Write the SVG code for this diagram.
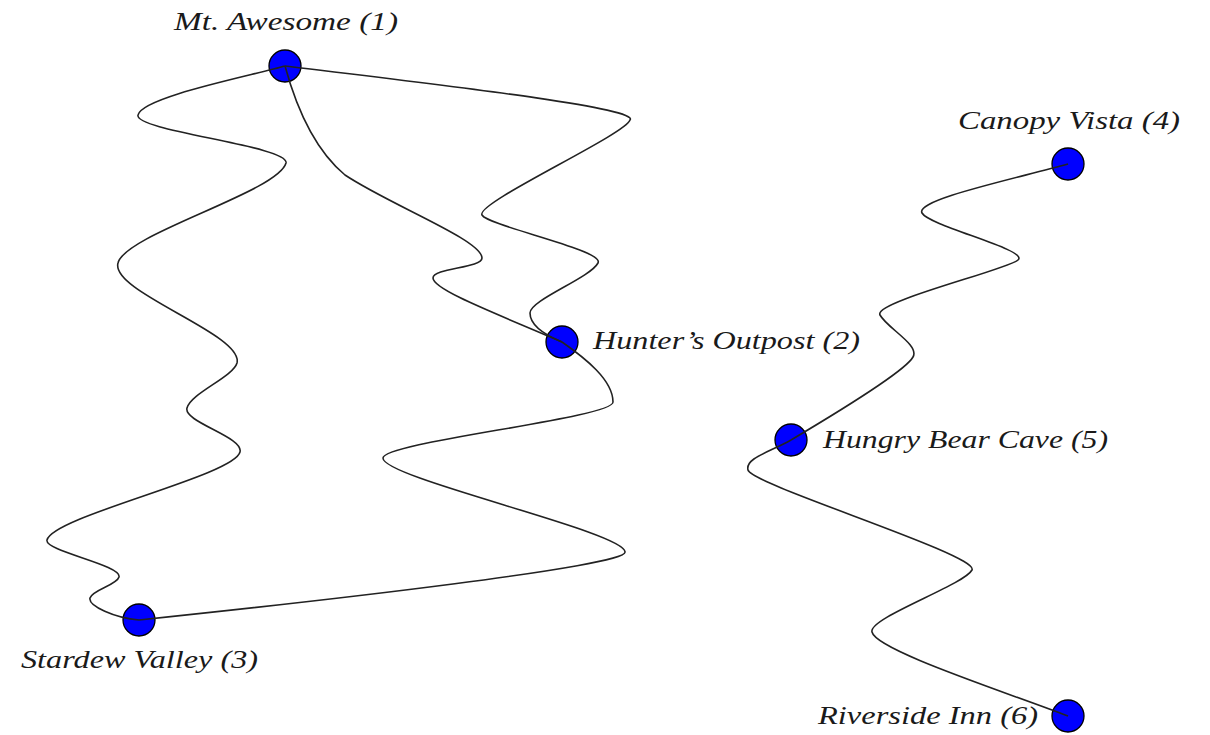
<svg xmlns="http://www.w3.org/2000/svg" width="1210" height="735" viewBox="0 0 1210 735">
<style>
.node{fill:#0000ff;stroke:#000;stroke-width:1.3}
.lbl{font-family:"Liberation Serif",serif;font-style:italic;font-size:26px;fill:#1a1a1a}
.edge{fill:none;stroke:#222;stroke-width:1.6}
</style>
<rect width="1210" height="735" fill="#fff"/>
<g id="node1"><circle class="node" cx="285" cy="66" r="16"/><text class="lbl" x="174" y="30" textLength="224" lengthAdjust="spacingAndGlyphs">Mt. Awesome (1)</text></g>
<g id="node2"><circle class="node" cx="562" cy="342" r="16"/><text class="lbl" x="593" y="349" textLength="267" lengthAdjust="spacingAndGlyphs">Hunter’s Outpost (2)</text></g>
<g id="node3"><circle class="node" cx="139" cy="620" r="16"/><text class="lbl" x="21" y="668" textLength="237" lengthAdjust="spacingAndGlyphs">Stardew Valley (3)</text></g>
<g id="node4"><circle class="node" cx="1068" cy="164" r="16"/><text class="lbl" x="958" y="129" textLength="222" lengthAdjust="spacingAndGlyphs">Canopy Vista (4)</text></g>
<g id="node5"><circle class="node" cx="791" cy="440" r="16"/><text class="lbl" x="823" y="448" textLength="285" lengthAdjust="spacingAndGlyphs">Hungry Bear Cave (5)</text></g>
<g id="node6"><circle class="node" cx="1068" cy="716" r="16"/><text class="lbl" x="818" y="724" textLength="220" lengthAdjust="spacingAndGlyphs">Riverside Inn (6)</text></g>
<g id="connectors">
<path class="edge" d="M285,66 C250,76 142,97 138,115 C134,131 290,146 286,163 C278,192 125,234 118,263 C110,292 244,334 237,363 C233,377 191,393 187,408 C183,422 244,437 240,452 C234,476 53,516 47,540 C44,551 122,565 119,577 C117,585 92,590 90,598 C88,606 115,618 139,620"/>
<path class="edge" d="M139,620 C330,600 628,566 625,552 C626,532 382,478 383,458 C383,442 614,418 613,402 C613,380 585,358 562,342"/>
<path class="edge" d="M285,66 C297,110 315,150 345,175 C390,205 482,240 482,258 C482,268 433,268 433,278 C433,290 500,315 562,342"/>
<path class="edge" d="M285,66 C450,86 640,108 630,120 C625,135 475,203 482,215 C488,226 605,250 598,263 C590,278 530,300 530,313 C530,325 545,335 562,342"/>
<path class="edge" d="M1068,164 C1010,180 915,200 922,213 C929,226 1030,250 1018,260 C1006,270 873,302 880,315 C887,328 920,345 913,357 C906,370 850,405 791,440"/>
<path class="edge" d="M791,440 C770,452 745,458 748,470 C752,485 980,555 972,570 C964,585 868,618 872,632 C876,650 1000,690 1068,716"/>
</g>
</svg>
